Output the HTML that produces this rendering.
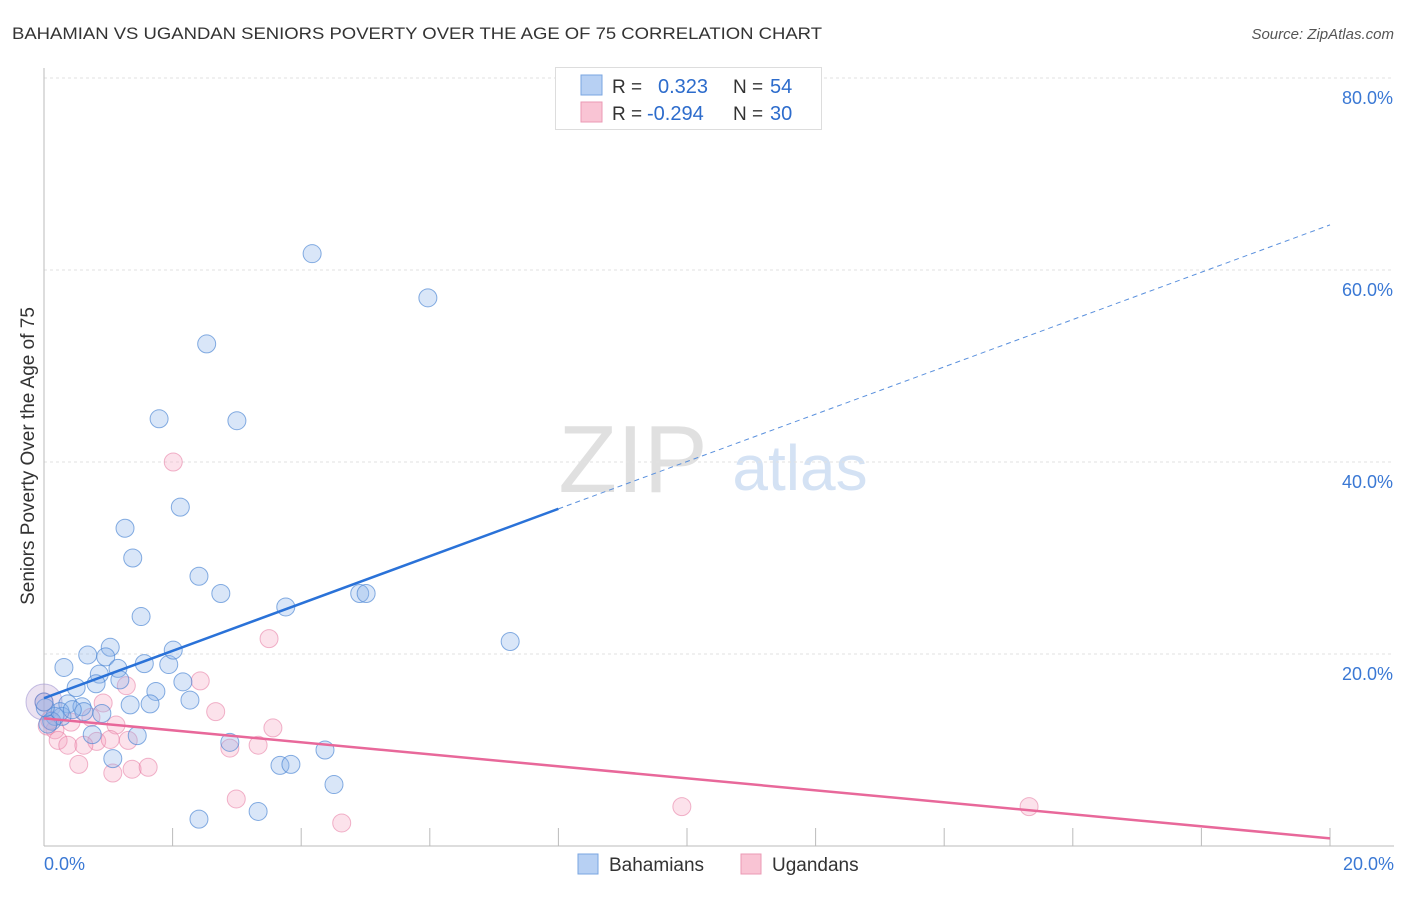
<!DOCTYPE html>
<html><head><meta charset="utf-8"><style>
body{margin:0;background:#fff;font-family:"Liberation Sans",sans-serif;}
svg text{font-family:"Liberation Sans",sans-serif;}
</style></head><body>
<svg id="chart" width="1406" height="892">
<text x="12" y="39" font-size="17" fill="#333" textLength="810" lengthAdjust="spacingAndGlyphs">BAHAMIAN VS UGANDAN SENIORS POVERTY OVER THE AGE OF 75 CORRELATION CHART</text>
<text x="1394" y="39" font-size="15" fill="#555" text-anchor="end" font-style="italic">Source: ZipAtlas.com</text>
<text x="633" y="492" font-size="96" fill="#e0e0e0" font-family="Liberation Serif" text-anchor="middle">ZIP</text>
<text x="800" y="490" font-size="64" fill="#d4e2f4" text-anchor="middle">atlas</text>
<g id="grid"></g><g id="axes"></g><g id="points"></g><g id="trends"></g>
<text transform="translate(34,456) rotate(-90)" font-size="19" fill="#333" text-anchor="middle">Seniors Poverty Over the Age of 75</text>
<g>
<rect x="555.5" y="67.5" width="266" height="62" fill="#fff" stroke="#ddd"/>
<rect x="581" y="75" width="21" height="20" fill="#b7d0f3" stroke="#7aa6e0"/>
<rect x="581" y="102" width="21" height="20" fill="#f9c4d4" stroke="#eb9ab4"/>
<text x="612" y="93" font-size="19" fill="#333">R =</text><text x="658" y="93" font-size="20" fill="#2d6ccc">0.323</text>
<text x="733" y="93" font-size="19" fill="#333">N =</text><text x="770" y="93" font-size="20" fill="#2d6ccc">54</text>
<text x="612" y="120" font-size="19" fill="#333">R =</text><text x="647" y="120" font-size="20" fill="#2d6ccc">-0.294</text>
<text x="733" y="120" font-size="19" fill="#333">N =</text><text x="770" y="120" font-size="20" fill="#2d6ccc">30</text>
</g>
<g>
<rect x="578" y="854" width="20" height="20" fill="#b7d0f3" stroke="#7aa6e0"/>
<text x="609" y="871" font-size="19" fill="#333">Bahamians</text>
<rect x="741" y="854" width="20" height="20" fill="#f9c4d4" stroke="#eb9ab4"/>
<text x="772" y="871" font-size="19" fill="#333">Ugandans</text>
</g>
</svg>
<script>
const yTicks=[20,40,60,80];
const yTickLabels=["20.0%","40.0%","60.0%","80.0%"];
const xTicks=[0,2,4,6,8,10,12,14,16,18,20];
const xEndLabels=["0.0%","20.0%"];
const bahX=[4.17,5.97,2.53,1.79,3.00,2.12,1.26,1.38,2.41,2.75,1.51,3.76,4.91,5.01,7.25,1.03,0.68,0.31,0.96,1.15,1.56,1.94,2.01,0.86,0.81,0.50,1.18,1.74,2.16,2.27,1.65,1.34,0.37,0.59,0.62,0.90,0.28,0.17,0.12,0.06,0.75,1.45,1.07,2.89,3.67,3.84,4.37,4.51,2.41,3.33,0.25,0.44,0.02,0.0];
const bahY=[61.7,57.1,52.3,44.5,44.3,35.3,33.1,30.0,28.1,26.3,23.9,24.9,26.3,26.3,21.3,20.7,19.9,18.6,19.7,18.5,19.0,18.9,20.4,17.9,16.9,16.5,17.3,16.1,17.1,15.2,14.8,14.7,14.8,14.5,14.0,13.8,13.5,13.5,13.0,12.7,11.6,11.5,9.1,10.8,8.4,8.5,10.0,6.4,2.8,3.6,14.0,14.2,14.4,15.0];
const ugaX=[2.01,3.50,2.43,1.28,0.92,2.67,3.56,0.73,1.12,0.42,0.17,0.22,0.37,0.82,0.62,1.31,1.03,0.54,1.07,1.37,1.62,2.89,3.33,2.99,4.63,9.92,15.32,0.09,0.0,0.05];
const ugaY=[40.0,21.6,17.2,16.7,14.9,14.0,12.3,13.4,12.6,12.9,12.1,11.0,10.5,10.9,10.5,11.0,11.1,8.5,7.6,8.0,8.2,10.2,10.5,4.9,2.4,4.1,4.1,13.1,15.0,12.5];
const bahTrend=[15.4,64.7];
const ugaTrend=[13.3,0.8];
const bahSolidEnd=8.0;
const X=v=>44+v*64.3;
const Y=v=>846-v*9.6;
const NS="http://www.w3.org/2000/svg";
function mk(tag,attrs,parent){const e=document.createElementNS(NS,tag);for(const k in attrs)e.setAttribute(k,attrs[k]);document.getElementById(parent).appendChild(e);return e;}
yTicks.forEach((t,i)=>{
  const l=mk('line',{x1:44,x2:1394,y1:Y(t),y2:Y(t),stroke:'#e2e2e2','stroke-dasharray':'3,3'},'grid');
  
  
  const tx=mk('text',{x:1393,y:Y(t)+26,'font-size':18,fill:'#3a78d4','text-anchor':'end'},'grid');
  tx.textContent=yTickLabels[i];
  
  
});
const ax=mk('line',{x1:44,x2:44,y1:68,y2:846,stroke:'#bbb'},'axes');


const bx=mk('line',{x1:44,x2:1394,y1:846,y2:846,stroke:'#bbb'},'axes');


xTicks.forEach(t=>{
  const l=mk('line',{x1:X(t),x2:X(t),y1:828,y2:846,stroke:'#bbb'},'axes');
  
  
});
[[0,'start',44],[20,'end',1394]].forEach((d,i)=>{
  const tx=mk('text',{x:d[2],y:870,'font-size':18,fill:'#3a78d4','text-anchor':d[1]},'axes');
  tx.textContent=xEndLabels[i];
  
  
});
const bigB=mk('circle',{cx:X(0),cy:Y(15.0),r:18,fill:'rgba(190,160,210,0.3)',stroke:'rgba(160,150,210,0.6)'},'points');


ugaX.forEach((x,i)=>{
  const c=mk('circle',{cx:X(x),cy:Y(ugaY[i]),r:9,fill:'rgba(245,160,190,0.3)',stroke:'rgba(230,120,160,0.55)'},'points');
  
  
});
bahX.forEach((x,i)=>{
  const c=mk('circle',{cx:X(x),cy:Y(bahY[i]),r:9,fill:'rgba(140,180,235,0.33)',stroke:'rgba(70,130,210,0.65)'},'points');
  
  
});
const bv=x=>bahTrend[0]+(bahTrend[1]-bahTrend[0])*x/20;
const t1=mk('line',{x1:X(0),y1:Y(bv(0)),x2:X(bahSolidEnd),y2:Y(bv(bahSolidEnd)),stroke:'#2a72d8','stroke-width':2.5},'trends');


const t2=mk('line',{x1:X(bahSolidEnd),y1:Y(bv(bahSolidEnd)),x2:X(20),y2:Y(bv(20)),stroke:'#5a90dd','stroke-width':1,'stroke-dasharray':'5,4'},'trends');


const t3=mk('line',{x1:X(0),y1:Y(ugaTrend[0]),x2:X(20),y2:Y(ugaTrend[1]),stroke:'#e8689a','stroke-width':2.5},'trends');


</script>
</body></html>
